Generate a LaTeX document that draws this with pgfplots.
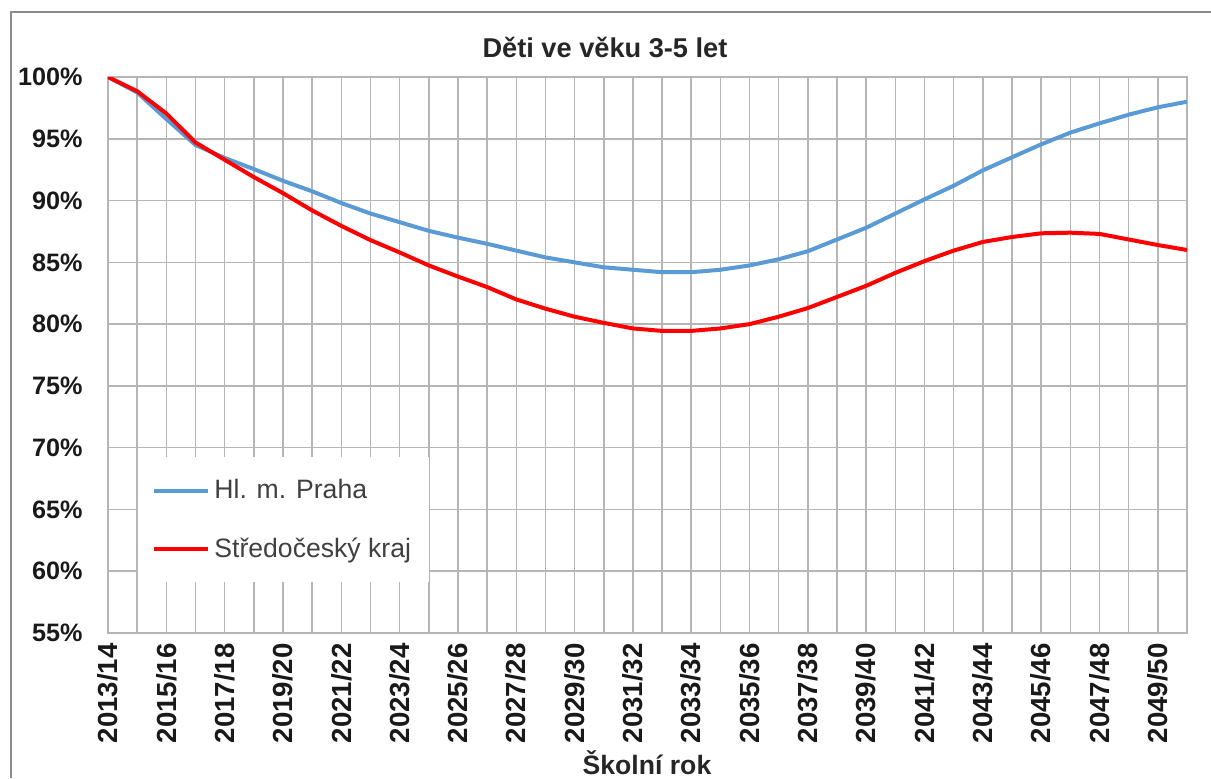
\documentclass[border=0pt]{standalone}
\usepackage{fontspec}
\setmainfont{Liberation Sans}
\usepackage{pgfplots}
\pgfplotsset{compat=1.18}
\definecolor{cblue}{HTML}{5B9BD5}
\definecolor{cred}{HTML}{FF0000}
\definecolor{gridc}{HTML}{B5B5B5}
\definecolor{framec}{HTML}{8C8C8C}
\definecolor{legtext}{HTML}{404040}
\pgfplotstableread{
i praha stc
0 100 100
1 98.75 98.85
2 96.6 97.05
3 94.5 94.7
4 93.45 93.3
5 92.55 91.9
6 91.6 90.6
7 90.75 89.2
8 89.8 87.95
9 88.95 86.8
10 88.25 85.8
11 87.55 84.75
12 87.0 83.85
13 86.5 83.0
14 85.95 82.0
15 85.4 81.25
16 85.0 80.6
17 84.6 80.1
18 84.4 79.65
19 84.2 79.45
20 84.2 79.45
21 84.4 79.65
22 84.75 80.0
23 85.25 80.6
24 85.9 81.3
25 86.85 82.2
26 87.8 83.1
27 88.95 84.15
28 90.1 85.1
29 91.2 85.95
30 92.45 86.65
31 93.5 87.05
32 94.55 87.35
33 95.5 87.4
34 96.25 87.3
35 96.95 86.85
36 97.55 86.4
37 98.0 86.0
}\datatable
\begin{document}
\begin{tikzpicture}
\path[use as bounding box] (0pt,0pt) rectangle (605.5pt,389pt);
\draw[framec, line width=0.75pt] (5.5pt,0pt) -- (5.5pt,383pt) -- (610pt,383pt);
\node[font=\bfseries\fontsize{13.6}{16}\selectfont, text=black!85] at (302.5pt,365pt) {Děti ve věku 3-5 let};
\node[font=\bfseries\fontsize{13.3}{16}\selectfont, text=black!85, anchor=base, inner sep=0pt] at (323.5pt,2pt) {Školní rok};
\begin{axis}[
  at={(54pt,72.5pt)}, anchor=south west,
  scale only axis, width=539.5pt, height=278pt,
  xmin=0, xmax=37, ymin=55, ymax=100,
  axis line style={gridc, line width=0.75pt},
  major tick length=0pt, minor tick length=0pt,
  xtick={0,2,...,36},
  xticklabels={2013/14,2015/16,2017/18,2019/20,2021/22,2023/24,2025/26,2027/28,2029/30,2031/32,2033/34,2035/36,2037/38,2039/40,2041/42,2043/44,2045/46,2047/48,2049/50},
  minor xtick={1,3,...,37},
  ytick={55,60,...,100},
  yticklabels={55\%,60\%,65\%,70\%,75\%,80\%,85\%,90\%,95\%,100\%},
  grid=both,
  major grid style={gridc, line width=0.75pt},
  minor grid style={gridc, line width=0.75pt},
  xticklabel style={rotate=90, anchor=east, inner sep=0pt, text=black!90, font=\bfseries\fontsize{13.8}{16}\selectfont},
  yticklabel style={anchor=east, inner sep=0pt, text=black!90, font=\bfseries\fontsize{12.6}{16}\selectfont},
  xticklabel shift=5pt,
  yticklabel shift=12.5pt,
  legend style={at={(axis description cs:0.0278,0.3165)}, anchor=north west,
    draw=none, fill=white, inner xsep=7pt, inner ysep=9pt, row sep=14pt,
    font=\fontsize{13.3}{16}\selectfont, text=legtext},
  legend cell align=left,
  legend image code/.code={\draw[#1] (0pt,0pt) -- (27pt,0pt);},
]
\addplot[cblue, line width=2pt, line join=round] table[x=i,y=praha] {\datatable};
\addlegendentry{Hl. m. Praha}
\addplot[cred, line width=2pt, line join=round] table[x=i,y=stc] {\datatable};
\addlegendentry{Středočeský kraj}
\end{axis}
\end{tikzpicture}
\end{document}
